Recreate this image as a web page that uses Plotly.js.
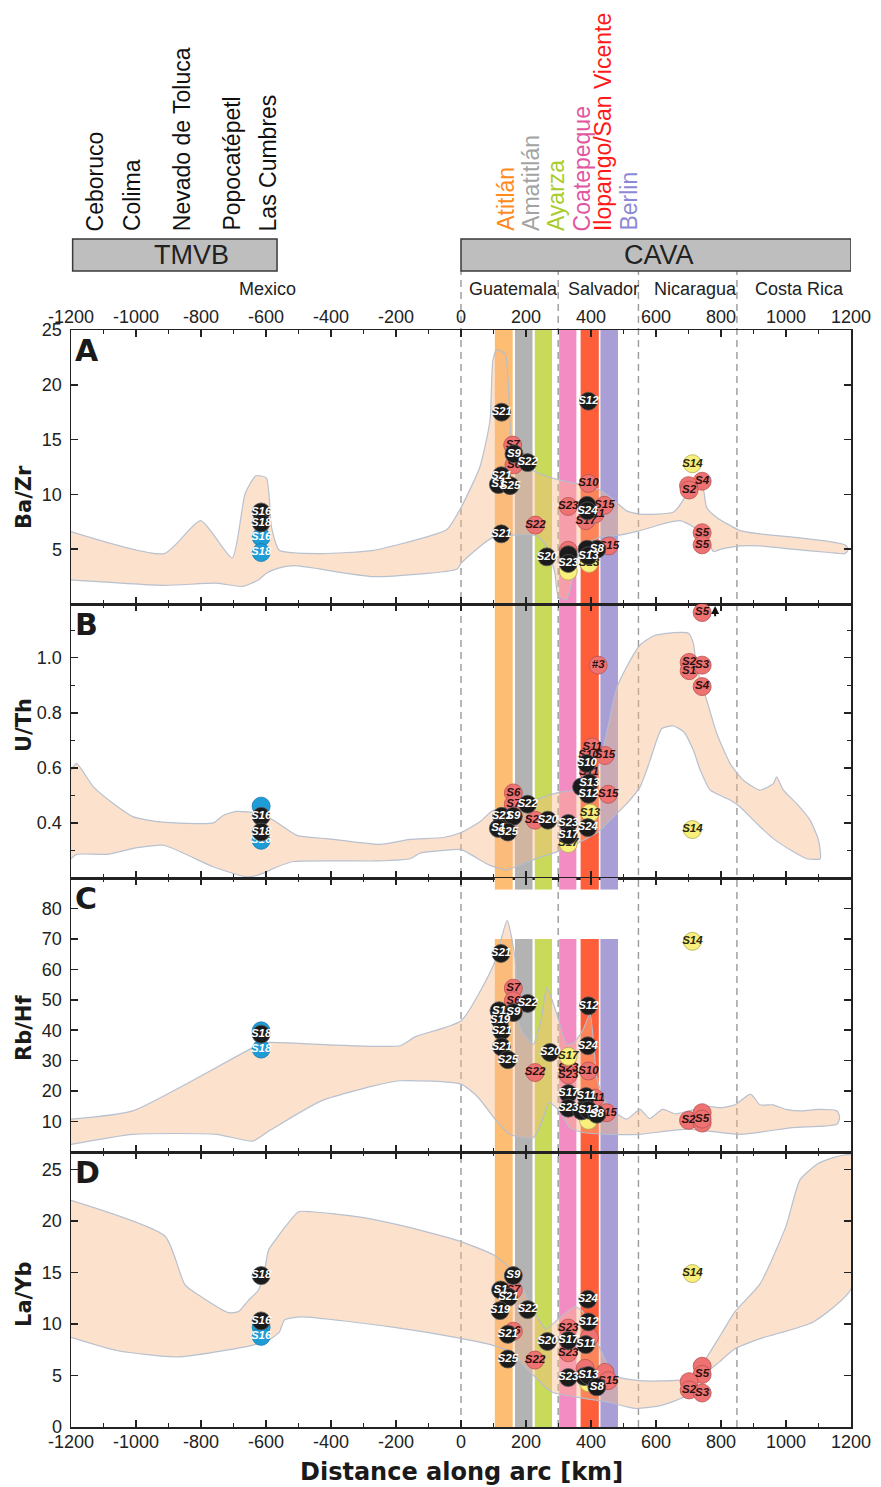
<!DOCTYPE html>
<html><head><meta charset="utf-8">
<script src="https://cdn.plot.ly/plotly-3.0.1.min.js"></script>
<style>html,body{margin:0;padding:0;background:#fff}#chart{width:881px;height:1487px}</style>
</head><body><div id="chart"></div><script>
// ---------------- DATA ----------------
const X_TICKS = [-1200,-1000,-800,-600,-400,-200,0,200,400,600,800,1000,1200];
const panelLetters = ['A','B','C','D'];
const panelTitles = ['Ba/Zr','U/Th','Rb/Hf','La/Yb'];
const yRanges = [[0,25],[0.2,1.195],[0,90],[0,26.7]];
const yTickVals = [[5,10,15,20,25],[0.4,0.6,0.8,1.0],[10,20,30,40,50,60,70,80],[0,5,10,15,20,25]];
const yTickText = [['5','10','15','20','25'],['0.4','0.6','0.8','1.0'],['10','20','30','40','50','60','70','80'],['0','5','10','15','20','25']];

const countryNames = ['Mexico','Guatemala','Salvador','Nicaragua','Costa Rica'];
const countryKm = [-594, 163, 437, 720, 1043];
const borderKm = [0, 299, 546, 849];

const arcNames = ['TMVB','CAVA'];
const arcStartKm = [-1195, 0];
const arcEndKm = [-566, 1200];
const arcLabelKm = [-830, 610];

const tmvbVolcanoes = ['Ceboruco','Colima','Nevado de Toluca','Popocatépetl','Las Cumbres'];
const tmvbVolcanoKm = [-1125, -1012, -858, -706, -594];
const cavaVolcanoes = ['Atitlán','Amatitlán','Ayarza','Coatepeque','Ilopango/San Vicente','Berlin'];
const cavaVolcanoKm = [138, 215, 291, 372, 437, 514];
const cavaTextColors = ['#FF8A1E','#A3A3A3','#A9CC2C','#E2559F','#FF1A1A','#8C89D6'];

const bandStartKm = [104, 166, 227, 302, 368, 429];
const bandEndKm = [159, 220, 280, 355, 424, 483];
const bandColors = ['#FDBD72','#B3B3B3','#C9DA5A','#F48CC4','#FF5E3A','#A99FD6'];
const bandRangesC = [[0,70],[86.2,90]];

// envelopes (closed outlines)
const envA_km = [-1200,-913,-801,-704,-664,-631,-599,-583,-559,-430,-269,-108,-43,0,58,89,98,110,136,146,154,172,234,305,387,428,469,510,551,654,690,705,731,746,756,787,859,920,1020,1133,1181,1192,
  1181,1133,1020,920,860,800,776,756,674,551,490,428,377,356,340,325,299,289,264,234,100,0,-11,-269,-511,-559,-599,-623,-672,-752,-913,-1200];
const envA_val = [6.6,4.6,7.6,4.2,10.1,11.7,11.5,7.0,4.9,4.6,4.9,6.1,6.8,8.8,12.5,16.7,22.2,23.2,22.8,19.8,15.2,13.1,12.0,11.3,10.8,10.4,9.5,8.5,8.2,8.4,9.8,10.8,11.0,10.4,8.8,7.9,6.7,6.4,6.1,5.7,5.4,5.0,
  4.6,4.7,5.0,5.3,5.3,5.0,4.8,6.2,7.6,6.7,6.3,6.1,5.2,4.0,1.9,0.4,0.7,2.8,5.2,6.2,6.1,3.7,3.2,2.5,3.5,3.3,2.8,2.2,1.6,1.9,1.7,2.2];

const envB_km = [-1200,-1183,-1131,-1069,-1008,-926,-762,-731,-690,-618,-577,-505,-413,-249,-156,-54,0,58,99,192,243,295,346,387,417,448,479,510,551,592,654,700,715,725,756,787,828,869,920,961,971,992,1033,1074,1100,1105,
  1064,1023,961,910,859,828,767,736,715,685,654,618,602,582,551,510,469,428,377,295,243,192,140,89,0,-54,-126,-156,-259,-515,-567,-618,-659,-761,-915,-997,-1090,-1183,-1200];
const envB_val = [0.59,0.616,0.531,0.47,0.422,0.404,0.40,0.428,0.442,0.434,0.41,0.355,0.343,0.322,0.34,0.347,0.365,0.404,0.446,0.464,0.489,0.509,0.519,0.53,0.58,0.725,0.889,0.967,1.046,1.079,1.091,1.089,1.052,0.967,0.846,0.725,0.616,0.555,0.519,0.543,0.567,0.519,0.47,0.41,0.337,0.27,
  0.27,0.295,0.343,0.398,0.458,0.483,0.519,0.592,0.664,0.731,0.752,0.743,0.70,0.628,0.531,0.47,0.422,0.373,0.337,0.295,0.276,0.252,0.23,0.246,0.303,0.30,0.29,0.27,0.262,0.26,0.24,0.213,0.204,0.24,0.319,0.31,0.286,0.286,0.27];

const envC_km = [-1200,-1010,-615,-591,-188,-140,0,101,142,166,182,222,246,264,295,325,346,375,397,418,438,469,510,551,580,620,660,700,760,800,843,891,920,960,1000,1050,1100,1157,1165,
  1157,1020,859,697,548,456,375,335,303,271,246,222,150,101,53,0,-188,-269,-430,-591,-640,-752,-1010,-1200];
const envC_val = [10.8,13.5,35.6,36.0,34.9,37.9,43.1,61.7,76.0,63.9,40.9,35.4,43.1,54.0,45.3,35.4,35.8,40,45.4,24.4,17.9,13.5,10.8,14.0,11,14,12.5,13.5,15,14.5,15.5,19.0,15.5,15.5,14,13.5,14,13.5,11.5,
  9.1,8.0,5.8,7.5,5.8,5.8,6.4,8.0,13.5,16.2,9.1,4.7,5.8,11.3,17.9,22.3,23.4,21.7,16.8,6.9,3.6,5.8,5.8,2.5];

const envD_km = [-1200,-910,-849,-797,-715,-685,-654,-623,-603,-592,-561,-500,-459,-315,-162,0,101,150,192,223,262,271,311,351,375,424,472,548,697,746,800,843,920,1000,1043,1100,1150,1200,
  1200,1084,923,843,794,746,697,617,536,456,375,279,214,150,101,0,-210,-492,-543,-559,-595,-646,-872,-1056,-1200];
const envD_val = [22.0,18.5,13.8,12.6,11.1,11.2,12.3,13.3,15.5,17.2,18.6,20.9,20.9,20.4,19.4,18.0,16.7,15.4,13.3,11.3,9.5,9.7,10.8,11.7,11.2,7.9,5.0,4.5,4.7,6.3,9.0,11.2,13.9,19.5,24.0,25.6,26.2,26.4,
  13.4,10.2,8.6,7.6,6.3,5.0,3.1,2.1,1.8,2.4,2.8,3.4,5.3,7.3,7.9,8.6,9.7,10.7,10.4,9.2,8.4,7.9,6.8,7.4,8.7];

// samples: k = black, s = salmon, y = yellow, b = blue
const ptsA_km  = [-615,-615,-615,-615, 125,159,163,163,205,124,115,151,124,229,264, 330,392,384,412,441,388,389,392,455,418,388,392,394,330,330,330,330, 712,742,700,702,742,742];
const ptsA_val = [8.4,7.4,6.1,4.7, 17.5,14.5,12.7,13.7,12.9,11.7,10.9,10.8,6.4,7.2,4.3, 8.9,11.0,7.6,8.2,9.0,9.0,8.5,18.5,5.3,5.0,5.0,4.4,3.7,4.9,3.0,4.5,3.7, 12.8,11.2,10.8,10.4,6.5,5.4];
const ptsA_lab = ['S16','S18','S16','S18', 'S21','S7','S6','S9','S22','S21','S1','S25','S21','S22','S20', 'S23','S10','S17','S11','S15','','S24','S12','S15','S8','','S13','S13','','','','S23', 'S14','S4','','S2','S5','S5'];
const ptsA_grp = ['k','k','b','b', 'k','s','s','k','k','k','k','k','k','s','k', 's','s','s','s','s','k','k','k','s','k','k','k','y','s','y','k','k', 'y','s','s','s','s','s'];

const ptsB_km  = [-615,-615,-615,-615, 161,161,205,125,161,115,144,228,267, 422,404,392,443,387,393,395,371,392,453,397,390,330,330,330, 742,702,702,742,742,712];
const ptsB_val = [0.461,0.424,0.337,0.367, 0.509,0.468,0.468,0.424,0.424,0.38,0.367,0.41,0.41, 0.973,0.676,0.645,0.645,0.616,0.585,0.545,0.531,0.504,0.504,0.436,0.383,0.398,0.355,0.325, 1.164,0.983,0.953,0.973,0.895,0.376];
const ptsB_lab = ['','S16','S16','S18', 'S6','S7','S22','S21','S9','S1','S25','S22','S20', '#3','S11','S10','S15','S10','S11','S13','','S12','S15','S13','S24','S23','S17','S17', 'S5','S2','S1','S3','S4','S14'];
const ptsB_grp = ['b','k','b','k', 's','s','k','k','k','k','k','s','k', 's','s','s','s','k','s','k','k','k','s','y','k','k','k','y', 's','s','s','s','s','y'];

const ptsC_km  = [-615,-615,-615, 123,161,161,205,117,161,120,125,125,144,228,274, 330,330,330,392,390,392,330,330,412,385,392,448,371,392,418, 712,700,742,742,742];
const ptsC_val = [39.8,38.7,33.8, 65.2,53.8,49.7,48.8,46.4,45.8,43.4,39.8,34.5,30.3,26.1,32.7, 31.4,27.7,25.3,48.0,34.9,26.6,19.2,14.4,17.7,18.2,10.4,12.9,13.5,13.8,12.4, 69.2,10.4,12.9,9.5,10.8];
const ptsC_lab = ['','S18','S18', 'S21','S7','S6','S22','S1','S9','S19','S21','S21','S25','S22','S20', 'S17','S23','S23','S12','S24','S10','S17','S23','S11','S11','','S15','','S13','S8', 'S14','S2','','','S5'];
const ptsC_grp = ['b','k','b', 'k','s','s','k','k','k','k','k','k','k','s','k', 'y','s','s','k','k','s','k','k','s','k','y','s','k','k','k', 'y','s','s','s','s'];

const ptsD_km  = [-615,-615,-615,-615, 161,161,122,146,120,205,161,144,144,228,266, 330,330,330,330,390,392,395,384,382,380,392,418,443,453,392, 712,742,742,702,702,742];
const ptsD_val = [14.7,9.7,8.8,10.3, 14.7,13.3,13.3,12.6,11.3,11.4,9.3,9.0,6.6,6.5,8.3, 9.6,8.4,7.2,4.8,12.4,10.2,8.7,8.0,5.7,4.9,5.0,3.9,5.3,4.5,4.3, 14.9,5.9,5.1,4.4,3.6,3.3];
const ptsD_lab = ['S18','','S16','S16', 'S9','S7','S1','S21','S19','S22','S6','S21','S25','S22','S20', 'S23','S17','S23','S23','S24','S12','','S11','','','S13','S8','','S15','', 'S14','','S5','','S2','S3'];
const ptsD_grp = ['k','b','b','k', 'k','s','k','k','k','k','s','k','k','s','k', 's','k','s','k','k','k','s','k','s','k','k','k','s','s','y', 'y','s','s','s','s','s'];

// ---------------- GEOMETRY ----------------
const W = 881, H = 1487;
const L = 71, R = 851, T = 330, B = 1427;
const bounds = [330, 604, 878, 1152, 1427];
const py = p => (B - p) / (B - T);
const pxp = p => (p - L) / (R - L);
const domains = [0,1,2,3].map(i => [py(bounds[i+1]), py(bounds[i])]);

const envKm = [envA_km, envB_km, envC_km, envD_km];
const envVal = [envA_val, envB_val, envC_val, envD_val];
const ptsKm = [ptsA_km, ptsB_km, ptsC_km, ptsD_km];
const ptsVal = [ptsA_val, ptsB_val, ptsC_val, ptsD_val];
const ptsLab = [ptsA_lab, ptsB_lab, ptsC_lab, ptsD_lab];
const ptsGrp = [ptsA_grp, ptsB_grp, ptsC_grp, ptsD_grp];

const groupStyle = {
  s: {fill:'#EE7272', line:'#B95252', text:'#2b1212'},
  y: {fill:'#F8EF7C', line:'#B3AA55', text:'#2b2b12'},
  b: {fill:'#1E9CD7', line:'#147AAC', text:'#ffffff'},
  k: {fill:'#1B1B1B', line:'#555555', text:'#ffffff'}
};
const groupOrder = ['s','y','b','k'];
const axSuffix = ['', '2', '3', '4'];

const traces = [];
for (let i = 0; i < 4; i++) {
  const xa = 'x' + axSuffix[i], ya = 'y' + axSuffix[i];
  traces.push({type:'scatter', mode:'lines', x: envKm[i], y: envVal[i], xaxis: xa, yaxis: ya,
    fill:'toself', fillcolor:'rgba(247,186,135,0.42)', line:{color:'rgba(180,190,206,0.95)', width:1.2, shape:'spline', smoothing:0.55},
    hoverinfo:'skip', showlegend:false});
  for (const g of groupOrder) {
    const idx = ptsGrp[i].map((v, j) => v === g ? j : -1).filter(j => j >= 0);
    if (!idx.length) continue;
    const st = groupStyle[g];
    traces.push({type:'scatter', mode:'markers+text', xaxis: xa, yaxis: ya,
      x: idx.map(j => ptsKm[i][j]), y: idx.map(j => ptsVal[i][j]), text: idx.map(j => ptsLab[i][j]),
      textposition:'middle center',
      textfont:{family:'Liberation Sans Narrow, Arial Narrow, Liberation Sans, Arial, sans-serif', size:11.5, weight:'bold', style:'italic', color: st.text},
      marker:{size:18, color: st.fill, line:{color: st.line, width:0.8}},
      hoverinfo:'skip', showlegend:false, cliponaxis:false});
  }
}

const shapes = [];
const annotations = [];
// colored volcano bands
for (let i = 0; i < 4; i++) {
  const xa = 'x' + axSuffix[i], ya = 'y' + axSuffix[i];
  for (let b = 0; b < bandStartKm.length; b++) {
    if (i === 2) {
      for (const r of bandRangesC) {
        shapes.push({type:'rect', layer:'below', xref: xa, yref: ya, x0: bandStartKm[b], x1: bandEndKm[b], y0: r[0], y1: r[1], fillcolor: bandColors[b], line:{width:0}});
      }
    } else {
      shapes.push({type:'rect', layer:'below', xref: xa, yref: ya + ' domain', x0: bandStartKm[b], x1: bandEndKm[b], y0: 0, y1: 1, fillcolor: bandColors[b], line:{width:0}});
    }
  }
}
// dashed country borders (through plot and up to the CAVA box)
for (const k of borderKm) {
  shapes.push({type:'line', layer:'below', xref:'x', yref:'paper', x0:k, x1:k, y0:0, y1: py(271), line:{color:'#9a9a9a', width:1.4, dash:'7px,5px'}});
}
// arc boxes
for (let a = 0; a < arcNames.length; a++) {
  shapes.push({type:'rect', layer:'above', xref:'x', yref:'paper', x0: arcStartKm[a], x1: arcEndKm[a], y0: py(271), y1: py(239), fillcolor:'#BEBEBE', line:{color:'#3a3a3a', width:1.5}});
  annotations.push({xref:'x', yref:'paper', x: arcLabelKm[a], y: py(255), text: arcNames[a], showarrow:false, xanchor:'center', yanchor:'middle',
    font:{family:'Liberation Sans, Arial, sans-serif', size:27, color:'#222'}});
}
// volcano names
tmvbVolcanoes.forEach((n, i) => annotations.push({xref:'x', yref:'paper', x: tmvbVolcanoKm[i], y: py(233), text: n, textangle:-90, showarrow:false,
  xanchor:'center', yanchor:'bottom', font:{family:'Liberation Sans, Arial, sans-serif', size:23, color:'#111'}}));
cavaVolcanoes.forEach((n, i) => annotations.push({xref:'x', yref:'paper', x: cavaVolcanoKm[i], y: py(233), text: n, textangle:-90, showarrow:false,
  xanchor:'center', yanchor:'bottom', font:{family:'Liberation Sans, Arial, sans-serif', size:23, color: cavaTextColors[i]}}));
// country names
countryNames.forEach((n, i) => annotations.push({xref:'x', yref:'paper', x: countryKm[i], y: py(289), text: n, showarrow:false,
  xanchor:'center', yanchor:'middle', font:{family:'Liberation Sans, Arial, sans-serif', size:18, color:'#222'}}));
// panel letters & y titles
const titleCenters = [497, 725, 1028, 1295];
for (let i = 0; i < 4; i++) {
  annotations.push({xref:'paper', yref:'paper', x: pxp(73), y: py(bounds[i] + 1), text: panelLetters[i], showarrow:false, xanchor:'left', yanchor:'top',
    font:{family:'DejaVu Sans, Liberation Sans, sans-serif', size:30, weight:'bold', color:'#1a1a1a'}});
  annotations.push({xref:'paper', yref:'paper', x: pxp(24), y: py(titleCenters[i]), text: panelTitles[i], textangle:-90, showarrow:false, xanchor:'center', yanchor:'middle',
    font:{family:'DejaVu Sans, Liberation Sans, sans-serif', size:21, weight:'bold', color:'#1a1a1a'}});
}
annotations.push({xref:'paper', yref:'paper', x: 0.5, y: py(1472), text:'Distance along arc [km]', showarrow:false, xanchor:'center', yanchor:'middle',
  font:{family:'DejaVu Sans, Liberation Sans, sans-serif', size:24, weight:'bold', color:'#1a1a1a'}});
// off-scale arrow for S5 in panel B
const s5idx = ptsB_val.indexOf(Math.max(...ptsB_val));
annotations.push({xref:'x2', yref:'y2', axref:'x2', ayref:'y2', x: ptsB_km[s5idx] + 40, y: 1.188, ax: ptsB_km[s5idx] + 40, ay: 1.145,
  text:'', showarrow:true, arrowhead:2, arrowsize:0.8, arrowwidth:2, arrowcolor:'#111'});

const tickFont = {family:'Liberation Sans, Arial, sans-serif', size:18, color:'#222'};
const layout = {
  width: W, height: H, margin:{l: L, r: W - R, t: T, b: H - B, pad:0},
  paper_bgcolor:'#fff', plot_bgcolor:'rgba(0,0,0,0)', showlegend:false, hovermode:false,
  shapes, annotations
};
for (let i = 0; i < 4; i++) {
  const xs = 'xaxis' + axSuffix[i], ys = 'yaxis' + axSuffix[i];
  layout[xs] = {anchor: 'y' + axSuffix[i], domain:[0,1], range:[-1200,1200], side: i === 0 ? 'top' : 'bottom',
    tickmode:'array', tickvals: X_TICKS, ticktext: X_TICKS.map(String), showticklabels: i === 0 || i === 3,
    ticks:'inside', ticklen:7, tickwidth:1.5, tickcolor:'#222', tickfont: tickFont, ticklabelstandoff: -2,
    minor:{ticks:'inside', tickmode:'linear', tick0:0, dtick:100, ticklen:4, tickwidth:1.2, tickcolor:'#222'},
    showline:true, linecolor:'#222', linewidth:1.5, mirror:'ticks', showgrid:false, zeroline:false, fixedrange:true};
  if (i > 0) layout[xs].matches = 'x';
  layout[ys] = {anchor: 'x' + axSuffix[i], domain: domains[i], range: yRanges[i], tickmode:'array', tickvals: yTickVals[i], ticktext: yTickText[i],
    ticks:'inside', ticklen:7, tickwidth:1.5, tickcolor:'#222', tickfont: tickFont, ticklabelstandoff: 4,
    showline:true, linecolor:'#222', linewidth:1.5, mirror:'ticks', showgrid:false, zeroline:false, fixedrange:true};
  if (i === 1) layout[ys].minor = {ticks:'inside', tickmode:'linear', tick0:0.2, dtick:0.1, ticklen:4, tickwidth:1.2, tickcolor:'#222'};
}
Plotly.newPlot('chart', traces, layout, {displayModeBar:false, staticPlot:true});
</script></body></html>
